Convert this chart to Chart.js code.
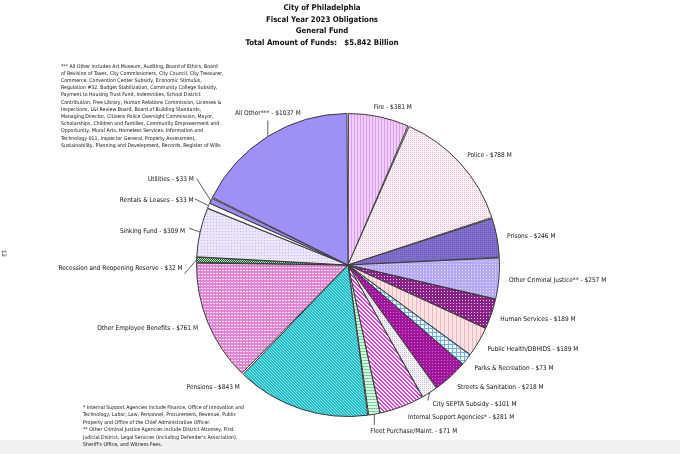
<!DOCTYPE html>
<html>
<head>
<meta charset="utf-8">
<script src="https://cdn.jsdelivr.net/npm/chart.js@4"></script>
<style>
  html, body { margin: 0; padding: 0; }
  body {
    width: 680px; height: 454px; position: relative; overflow: hidden; background: #fff;
    font-family: "Liberation Sans Narrow", "DejaVu Sans Condensed", sans-serif; color: #111;
  }
  #band { position: absolute; left: 0; top: 440px; width: 680px; height: 14px; background: #f1f1f1; }
  #chart { position: absolute; left: 0; top: 0; }
  .title {
    position: absolute; left: 222px; width: 200px; top: 2px; text-align: center;
    font-weight: bold; font-size: 7.8px; line-height: 11.7px;
  }
  .note { position: absolute; font-size: 5.2px; line-height: 7.2px; white-space: nowrap; }
  #pageno { position: absolute; left: 1px; top: 250px; font-size: 6px; transform: rotate(90deg); }
</style>
</head>
<body>
<div id="band"></div>
<canvas id="chart" width="680" height="454"></canvas>
<div class="title">City of Philadelphia<br>Fiscal Year 2023 Obligations<br>General Fund<br>Total Amount of Funds:&nbsp;&nbsp; $5.842 Billion</div>
<div class="note" style="left:61px;top:62.5px;">
*** All Other includes Art Museum, Auditing, Board of Ethics, Board<br>
of Revision of Taxes, City Commissioners, City Council, City Treasurer,<br>
Commerce, Convention Center Subsidy, Economic Stimulus,<br>
Regulation #32, Budget Stabilization, Community College Subsidy,<br>
Payment to Housing Trust Fund, Indemnities, School District<br>
Contribution, Free Library, Human Relations Commission, Licenses &amp;<br>
Inspections, L&amp;I Review Board, Board of Building Standards,<br>
Managing Director, Citizens Police Oversight Commission, Mayor,<br>
Scholarships, Children and Families, Community Empowerment and<br>
Opportunity, Mural Arts, Homeless Services, Information and<br>
Technology-911, Inspector General, Property Assessment,<br>
Sustainability, Planning and Development, Records, Register of Wills
</div>
<div class="note" style="left:83px;top:403.5px;line-height:7.6px;">
* Internal Support Agencies include Finance, Office of Innovation and<br>
Technology, Labor, Law, Personnel, Procurement, Revenue, Public<br>
Property and Office of the Chief Administrative Officer.<br>
** Other Criminal Justice Agencies include District Attorney, First<br>
Judicial District, Legal Services (including Defender's Association),<br>
Sheriff's Office, and Witness Fees.
</div>
<div id="pageno">12</div>
<script>
const categories = ['Fire', 'Police', 'Prisons', 'Other Criminal Justice**', 'Human Services',
  'Public Health/DBHIDS', 'Parks & Recreation', 'Streets & Sanitation', 'City SEPTA Subsidy',
  'Internal Support Agencies*', 'Fleet Purchase/Maint.', 'Pensions', 'Other Employee Benefits',
  'Recession and Reopening Reserve', 'Sinking Fund', 'Rentals & Leases', 'Utilities', 'All Other***'];
const amounts = [381, 788, 246, 257, 189, 189, 73, 218, 101, 281, 71, 843, 761, 32, 309, 33, 33, 1037];

// label placement relative to the slice's outer edge at its middle angle: dx, dy, align
const labelOffset = [
  [-5, -9, 'left'], [7, -8, 'left'], [10, -1, 'left'], [10, 2, 'left'], [9, 5, 'left'],
  [9, 7, 'left'], [8, 9, 'left'], [7, 11, 'left'], [3, 12, 'left'], [6, 11, 'left'],
  [-4, 17, 'left'], [-61, -22, 'right'], [-10, 6, 'right'], [-14, 9, 'right'],
  [-15, -1, 'right'], [-15, -5, 'right'], [-17, -21, 'right'], [0, -23, 'center']
];
// leader line end, relative to the slice edge point (null = no line)
const leaderEnd = [
  null, null, null, null, null, null, null, null, [-2, 8], null,
  [0, 11], null, null, [-12, 14], [-11, -4], [-14, -7], [-14, -22], [0, -16]
];

function tile(size, bg, draw) {
  const c = document.createElement('canvas');
  c.width = c.height = size;
  const g = c.getContext('2d');
  g.fillStyle = bg;
  g.fillRect(0, 0, size, size);
  if (draw) draw(g, size);
  return c;
}
const kinds = {
  vlines: (fg) => (g, s) => { g.fillStyle = fg; g.fillRect(0, 0, 1, s); },
  hlines: (fg) => (g, s) => { g.fillStyle = fg; g.fillRect(0, 0, s, 1); },
  dots: (fg) => (g) => { g.fillStyle = fg; g.fillRect(0, 0, 1, 1); },
  check: (fg) => (g) => { g.fillStyle = fg; g.fillRect(0, 0, 1, 1); g.fillRect(1, 1, 1, 1); },
  grid: (fg) => (g, s) => { g.fillStyle = fg; g.fillRect(0, 0, s, 1); g.fillRect(0, 0, 1, s); },
  dash: (fg) => (g, s) => { g.fillStyle = fg; g.fillRect(0, 0, s - 1, 1); },
  diag: (fg) => (g, s) => { g.fillStyle = fg; for (let k = 0; k < s; k++) { g.fillRect(k, k, 1, 1); g.fillRect((k + 1) % s, k, 1, 1); } }
};

const cv = document.getElementById('chart');
const ctx = cv.getContext('2d');
function pat(kind, size, bg, fg) {
  return ctx.createPattern(tile(size, bg, kind ? kinds[kind](fg) : null), 'repeat');
}
const fills = [
  pat('vlines', 3, '#f3cdfa', '#d8a0ea'),
  pat('dots', 2, '#fdf3f7', '#ebbcd0'),
  pat('dots', 2, '#8272ce', '#6a5ab6'),
  pat('dots', 3, '#b5abf3', '#e4e0fc'),
  pat('dots', 3, '#8a2088', '#f0d0f0'),
  pat('vlines', 4, '#fde2e3', '#f2b8c4'),
  pat('grid', 4, '#eaf6fc', '#70b0e0'),
  pat('dots', 3, '#a0169a', '#cc66c8'),
  pat('dots', 2, '#f5f3f9', '#c8c4dc'),
  pat('diag', 4, '#ffffff', '#e040e0'),
  pat('hlines', 3, '#d8fae4', '#70d498'),
  pat('diag', 3, '#72ecec', '#2cb8c4'),
  pat('dash', 3, '#e184d4', '#fae6f6'),
  pat('check', 2, '#1f5a2f', '#b8f0c0'),
  pat('dots', 3, '#ece6fc', '#c4b8f0'),
  '#ffffff',
  '#9a8af0',
  '#9f90f5'
];

const labelPlugin = {
  id: 'sliceLabels',
  afterDatasetsDraw(chart) {
    const c = chart.ctx;
    const meta = chart.getDatasetMeta(0);
    c.save();
    c.font = '6.5px "Liberation Sans Narrow", "DejaVu Sans Condensed", sans-serif';
    c.fillStyle = '#111';
    c.strokeStyle = '#333';
    c.lineWidth = 0.8;
    c.textBaseline = 'middle';
    meta.data.forEach((arc, i) => {
      const p = arc.getProps(['x', 'y', 'startAngle', 'endAngle', 'outerRadius'], true);
      const mid = (p.startAngle + p.endAngle) / 2;
      const ex = p.x + Math.cos(mid) * (p.outerRadius + 1);
      const ey = p.y + Math.sin(mid) * (p.outerRadius + 1);
      const lead = leaderEnd[i];
      if (lead) {
        c.beginPath();
        c.moveTo(ex, ey);
        c.lineTo(ex + lead[0], ey + lead[1]);
        c.stroke();
      }
      const [dx, dy, align] = labelOffset[i];
      c.textAlign = align;
      c.fillText(categories[i] + ' - $' + amounts[i] + ' M', ex + dx, ey + dy);
    });
    c.restore();
  }
};

new Chart(cv, {
  type: 'pie',
  data: {
    labels: categories,
    datasets: [{
      data: amounts,
      backgroundColor: fills,
      borderColor: '#3a3a3a',
      borderWidth: 1,
      spacing: 2
    }]
  },
  options: {
    responsive: false,
    animation: false,
    layout: { padding: { left: 196, right: 180, top: 113, bottom: 37 } },
    plugins: { legend: { display: false }, tooltip: { enabled: false } }
  },
  plugins: [labelPlugin]
});
</script>
</body>
</html>
